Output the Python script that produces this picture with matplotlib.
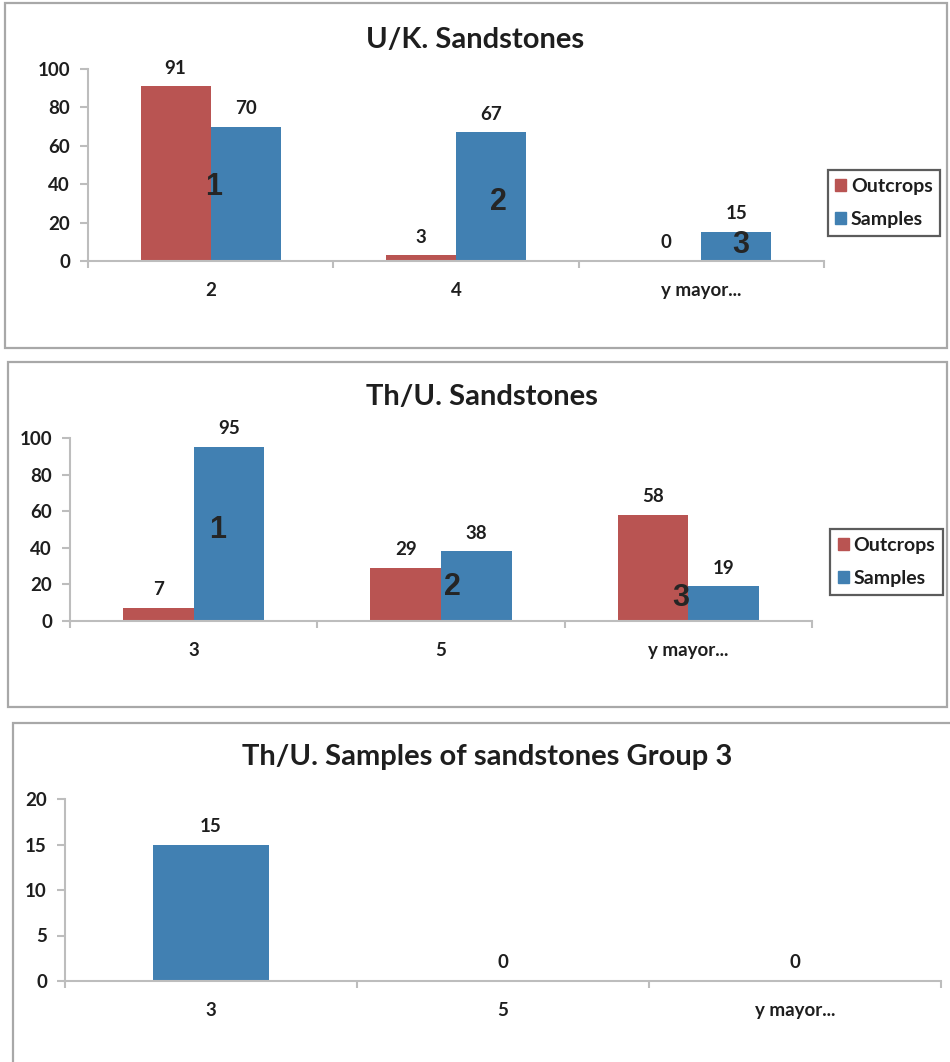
import matplotlib
matplotlib.use('Agg')
import matplotlib.pyplot as plt
from matplotlib.patches import Rectangle
import numpy as np

plt.rcParams['font.family'] = ['Lato', 'DejaVu Sans']
plt.rcParams['font.weight'] = 'bold'

# data
uk_categories = ['2', '4', 'y mayor...']
uk_outcrops = [91, 3, 0]
uk_samples = [70, 67, 15]

thu_categories = ['3', '5', 'y mayor...']
thu_outcrops = [7, 29, 58]
thu_samples = [95, 38, 19]

g3_categories = ['3', '5', 'y mayor...']
g3_samples = [15, 0, 0]

# group markers (category position, y value)
uk_groups = [('1', 0.012, 38.5), ('2', 1.175, 30.5), ('3', 2.16, 8.3)]
thu_groups = [('1', 0.097, 50), ('2', 1.045, 18.6), ('3', 1.97, 12.6)]

RED = '#B95452'
BLUE = '#4180B2'
AXIS = '#BDBDBD'
TXT = '#1E1E1E'

W, H = 950, 1062
fig = plt.figure(figsize=(W / 100, H / 100), dpi=100)


def px_axes(left, right, top, bottom):
    return fig.add_axes([left / W, 1 - bottom / H, (right - left) / W, (bottom - top) / H])


def frame(left, top, right, bottom):
    fig.patches.append(Rectangle((left / W, 1 - bottom / H), (right - left) / W, (bottom - top) / H,
                                 transform=fig.transFigure, fill=False, edgecolor='#A8A8A8', lw=1.6))


def style(ax, ymax, step, cats):
    n = len(cats)
    ax.set_xlim(-0.5, n - 0.5)
    ax.set_ylim(0, ymax)
    ax.set_yticks(np.arange(0, ymax + 1, step))
    ax.set_xticks(range(n))
    ax.set_xticklabels(cats)
    ax.set_xticks(np.arange(-0.5, n, 1), minor=True)
    for s in ['top', 'right']:
        ax.spines[s].set_visible(False)
    for s in ['left', 'bottom']:
        ax.spines[s].set_color(AXIS)
        ax.spines[s].set_linewidth(1.5)
    ax.tick_params(axis='x', which='major', length=0, pad=15, labelsize=13.5, labelcolor=TXT)
    ax.tick_params(axis='x', which='minor', length=5, color=AXIS, width=1.5)
    ax.tick_params(axis='y', length=6, color=AXIS, width=1.5, pad=7, labelsize=13.5, labelcolor=TXT)
    ax.patch.set_alpha(0)


def labels(ax, bars, vals):
    for b, v in zip(bars, vals):
        ax.annotate(str(v), (b.get_x() + b.get_width() / 2, b.get_height()),
                    xytext=(0, 7), textcoords='offset points', ha='center', va='bottom',
                    fontsize=13.5, color=TXT, fontweight='bold')


def groups(ax, marks):
    for t, xv, yv in marks:
        ax.text(xv, yv, t, ha='center', va='center', fontsize=22, color='#252525',
                family=['Liberation Sans'], fontweight='bold')


def legend(x0, y0, x1, y1):
    h = [Rectangle((0, 0), 1, 1, color=RED), Rectangle((0, 0), 1, 1, color=BLUE)]
    lg = fig.legend(h, ['Outcrops', 'Samples'], loc='center',
                    bbox_to_anchor=((x0 + x1) / 2 / W, 1 - (y0 + y1) / 2 / H),
                    fontsize=14, frameon=True, fancybox=False, handlelength=0.55,
                    handleheight=0.55, handletextpad=0.25, labelspacing=0.8, borderpad=0.4,
                    borderaxespad=0)
    lg.get_frame().set_edgecolor('#333333')
    lg.get_frame().set_linewidth(1.6)
    for t in lg.get_texts():
        t.set_color(TXT)


w = 0.286

# panel 1
frame(5, 3, 947, 348)
ax1 = px_axes(88, 824, 69, 261)
x = np.arange(len(uk_categories))
b1 = ax1.bar(x - w / 2, uk_outcrops, w, color=RED)
b2 = ax1.bar(x + w / 2, uk_samples, w, color=BLUE)
labels(ax1, b1, uk_outcrops)
labels(ax1, b2, uk_samples)
groups(ax1, uk_groups)
style(ax1, 100, 20, uk_categories)
fig.text(475 / W, 1 - 40 / H, 'U/K. Sandstones', ha='center', va='center', fontsize=21,
         color=TXT, fontweight='bold')
legend(827, 167, 941, 239)

# panel 2
frame(8, 362, 947, 707)
ax2 = px_axes(70, 812, 438, 621)
x = np.arange(len(thu_categories))
b1 = ax2.bar(x - w / 2, thu_outcrops, w, color=RED)
b2 = ax2.bar(x + w / 2, thu_samples, w, color=BLUE)
labels(ax2, b1, thu_outcrops)
labels(ax2, b2, thu_samples)
groups(ax2, thu_groups)
style(ax2, 100, 20, thu_categories)
fig.text(482 / W, 1 - 397 / H, 'Th/U. Sandstones', ha='center', va='center', fontsize=21,
         color=TXT, fontweight='bold')
legend(829, 526, 944, 598)

# panel 3
frame(13, 723, 951, 1064)
ax3 = px_axes(65, 941, 799, 981)
x = np.arange(len(g3_categories))
b3 = ax3.bar(x, g3_samples, 0.4, color=BLUE)
labels(ax3, b3, g3_samples)
style(ax3, 20, 5, g3_categories)
fig.text(487 / W, 1 - 757 / H, 'Th/U. Samples of sandstones Group 3', ha='center', va='center',
         fontsize=21, color=TXT, fontweight='bold')

fig.savefig('out.png', dpi=100)
